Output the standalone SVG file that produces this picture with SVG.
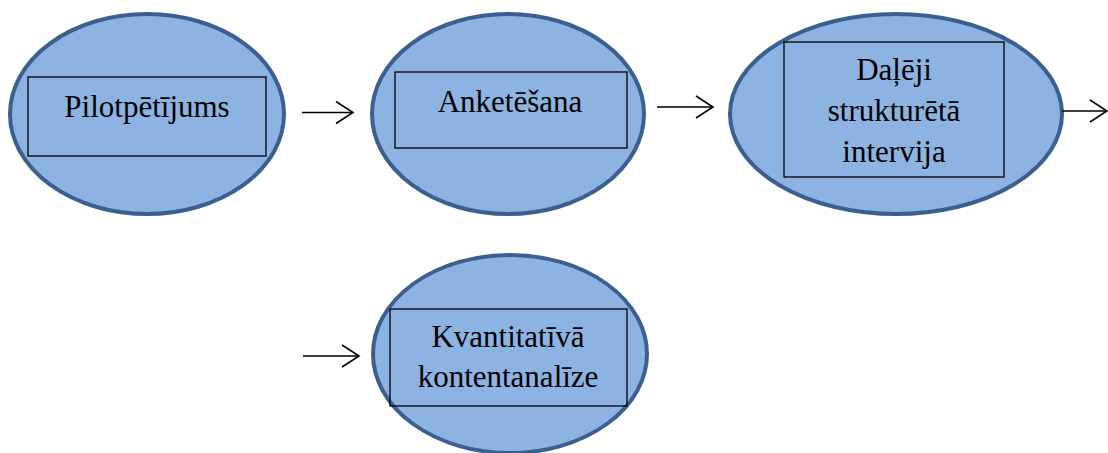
<svg xmlns="http://www.w3.org/2000/svg" width="1108" height="453" viewBox="0 0 1108 453">
<defs>
<style>
.ell{fill:#8DB3E2;stroke:#3B6090;stroke-width:4}
.box{fill:none;stroke:#000;stroke-width:1.3}
.lbl{font-family:"Liberation Serif","Times New Roman",serif;font-size:31px;fill:#000;text-anchor:middle}
.con{fill:none;stroke:#000;stroke-width:1.6}
</style>
<marker id="arr" viewBox="0 0 20 24" markerWidth="20" markerHeight="24" refX="18" refY="12" orient="auto" markerUnits="userSpaceOnUse">
<path d="M1,1 L18,12 L1,23" fill="none" stroke="#000" stroke-width="1.6"/>
</marker>
</defs>
<rect width="1108" height="453" fill="#fff"/>
<g id="node-pilot">
<ellipse class="ell" cx="147" cy="114" rx="137" ry="100"/>
<rect class="box" x="28" y="77" width="238" height="79"/>
<text class="lbl" x="147" y="117">Pilotpētījums</text>
</g>
<g id="node-anketesana">
<ellipse class="ell" cx="508" cy="114" rx="136" ry="100"/>
<rect class="box" x="395" y="72" width="232" height="76"/>
<text class="lbl" x="510" y="112">Anketēšana</text>
</g>
<g id="node-intervija">
<ellipse class="ell" cx="896" cy="114" rx="166" ry="100"/>
<rect class="box" x="784" y="42" width="220" height="135"/>
<text class="lbl" x="894" y="80">Daļēji</text>
<text class="lbl" x="894" y="121">strukturētā</text>
<text class="lbl" x="894" y="162">intervija</text>
</g>
<g id="node-kontentanalize">
<ellipse class="ell" cx="510" cy="354" rx="137" ry="99"/>
<rect class="box" x="390" y="309" width="237" height="97"/>
<text class="lbl" x="508" y="347">Kvantitatīvā</text>
<text class="lbl" x="508" y="387">kontentanalīze</text>
</g>
<g id="connectors">
<line class="con" x1="302" y1="112.5" x2="353" y2="112.5" marker-end="url(#arr)"/>
<line class="con" x1="657" y1="107" x2="713" y2="107" marker-end="url(#arr)"/>
<line class="con" x1="1062" y1="111" x2="1107" y2="111" marker-end="url(#arr)"/>
<line class="con" x1="303" y1="356" x2="359" y2="356" marker-end="url(#arr)"/>
</g>
</svg>
